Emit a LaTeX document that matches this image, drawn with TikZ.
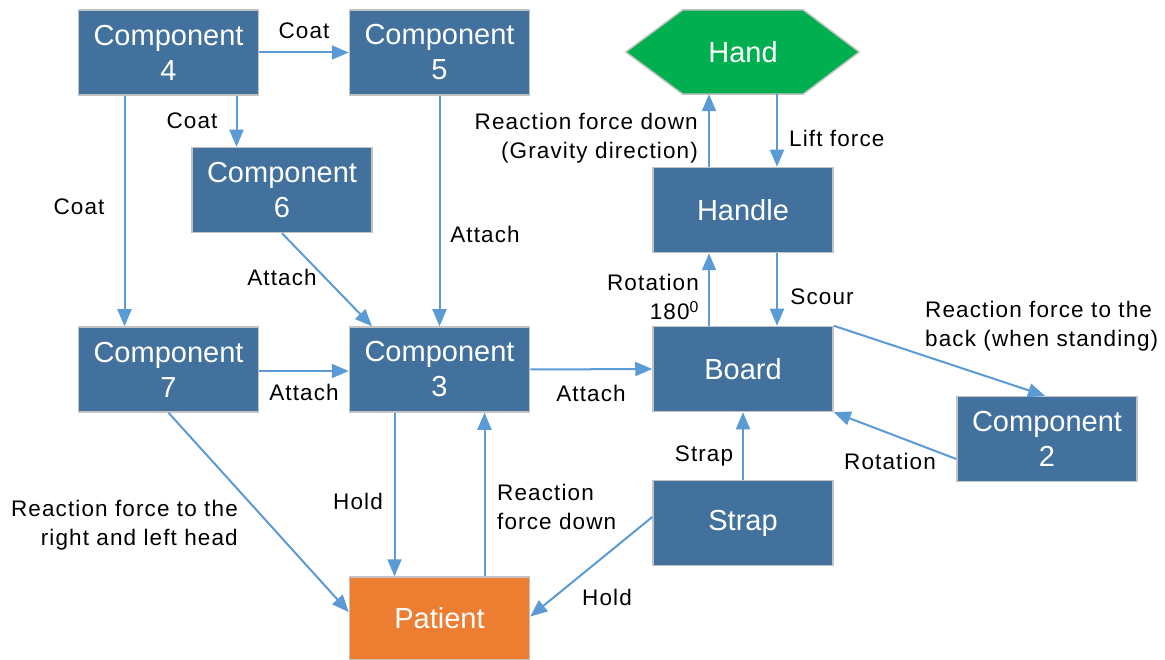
\documentclass[tikz,border=0pt]{standalone}
\usepackage{fontspec}
\setmainfont{Liberation Sans}
\newfontfamily\labfam[LetterSpace=5]{Liberation Sans}
\usetikzlibrary{arrows.meta,backgrounds}
\definecolor{boxblue}{HTML}{41719C}
\definecolor{boxborder}{HTML}{C3C3C3}
\definecolor{arrowblue}{HTML}{5B9BD5}
\definecolor{patorange}{HTML}{ED7D31}
\definecolor{handgreen}{HTML}{00B050}
\begin{document}
\begin{tikzpicture}[x=1pt,y=-1pt,
  box/.style={rectangle, fill=boxblue, draw=boxborder, line width=1.5pt,
    minimum width=180pt, minimum height=85pt, text=white, align=center,
    inner sep=0pt, font=\fontsize{29}{35}\selectfont},
  lbl/.style={inner sep=0pt, text=black, font=\labfam\fontsize{22.5}{29.5}\selectfont},
  arr/.style={draw=arrowblue, line width=2pt, -{Triangle[length=17pt,width=14pt]}}]
\useasboundingbox (0,0) rectangle (1165,660);
% boxes
\node[box] (c4) at (168.5,52.5) {Component\\4};
\node[box] (c5) at (439.5,52.5) {Component\\5};
\node[box] (c6) at (282,190) {Component\\6};
\node[box] (c7) at (168.5,369.5) {Component\\7};
\node[box] (c3) at (439.5,369.5) {Component\\3};
\node[box] (board) at (743,369) {Board};
\node[box] (handle) at (743,210) {Handle};
\node[box] (c2) at (1047,439) {Component\\2};
\node[box] (strap) at (743,523) {Strap};
\node[box, fill=patorange, minimum height=83pt] (patient) at (439.5,618.5) {Patient};
\node[inner sep=0pt, minimum width=120pt, minimum height=84pt, text=white,
  font=\fontsize{29}{35}\selectfont] (hand) at (743,52) {Hand};
\begin{scope}[on background layer]
\filldraw[fill=handgreen, draw=boxborder, line width=1.5pt]
  (hand.north west) -- (hand.north east) -- ([xshift=56pt]hand.east)
  -- (hand.south east) -- (hand.south west) -- ([xshift=-57pt]hand.west) -- cycle;
\end{scope}
% connectors
\draw[arr] (c4.east) -- (c5.west);
\draw[arr] ([xshift=68pt]c4.south) -- ([xshift=68pt]c4.south |- c6.north);
\draw[arr] ([xshift=-44pt]c4.south) -- ([xshift=-44pt]c7.north);
\draw[arr] (c5.south) -- (c3.north);
\draw[arr] (c6.south) -- ([xshift=-67.5pt]c3.north);
\draw[arr] ([yshift=-1.5pt]c7.east) -- ([yshift=-1.5pt]c3.west);
\draw[arr] (c3.east) -- (board.west);
\draw[arr] ([xshift=-45pt]c3.south) -- ([xshift=-45pt]patient.north);
\draw[arr] ([xshift=45pt]patient.north) -- ([xshift=45pt]c3.south);
\draw[arr] (c7.south) -- ([yshift=6.5pt]patient.west);
\draw[arr] ([yshift=6pt]strap.west) -- ([yshift=2pt]patient.east);
\draw[arr] (strap.north) -- (board.south);
\draw[arr] ([yshift=-20pt]c2.west) -- (board.south east);
\draw[arr] (board.north east) -- ([xshift=-2pt]c2.north);
\draw[arr] ([xshift=-34pt]board.north) -- ([xshift=-34pt]handle.south);
\draw[arr] ([xshift=34pt]handle.south) -- ([xshift=34pt]board.north);
\draw[arr] ([xshift=-34pt]handle.north) -- ([xshift=-34pt]handle.north |- hand.south);
\draw[arr] ([xshift=34pt]handle.north |- hand.south) -- ([xshift=34pt]handle.north);
% labels
\node[lbl] (l1) at (304,31) {Coat};
\node[lbl] (l2) at (192,121) {Coat};
\node[lbl] (l3) at (79,207) {Coat};
\node[lbl] (l4) at (485,234) {Attach};
\node[lbl] (l5) at (282,277) {Attach};
\node[lbl] (l6) at (304,392) {Attach};
\node[lbl] (l7) at (591,393) {Attach};
\node[lbl] (l8) at (358,501) {Hold};
\node[lbl, align=left, anchor=west] (l9) at (497,507) {Reaction\\force down};
\node[lbl, align=right, anchor=east] (l10) at (238,525) {Reaction force to the\\right and left head};
\node[lbl] (l11) at (607,597) {Hold};
\node[lbl] (l12) at (704,456) {Strap};
\node[lbl] (l13) at (890,461) {Rotation};
\node[lbl, align=left, anchor=west] (l14) at (925,326) {Reaction force to the\\back (when standing)};
\node[lbl, align=right, anchor=east] (l15) at (699,297) {Rotation\\180\textsuperscript{0}};
\node[lbl] (l16) at (822,297) {Scour};
\node[lbl, align=right, anchor=east] (l17) at (698,138) {Reaction force down\\(Gravity direction)};
\node[lbl, anchor=west] (l18) at (789,138) {Lift force};
\end{tikzpicture}
\end{document}
